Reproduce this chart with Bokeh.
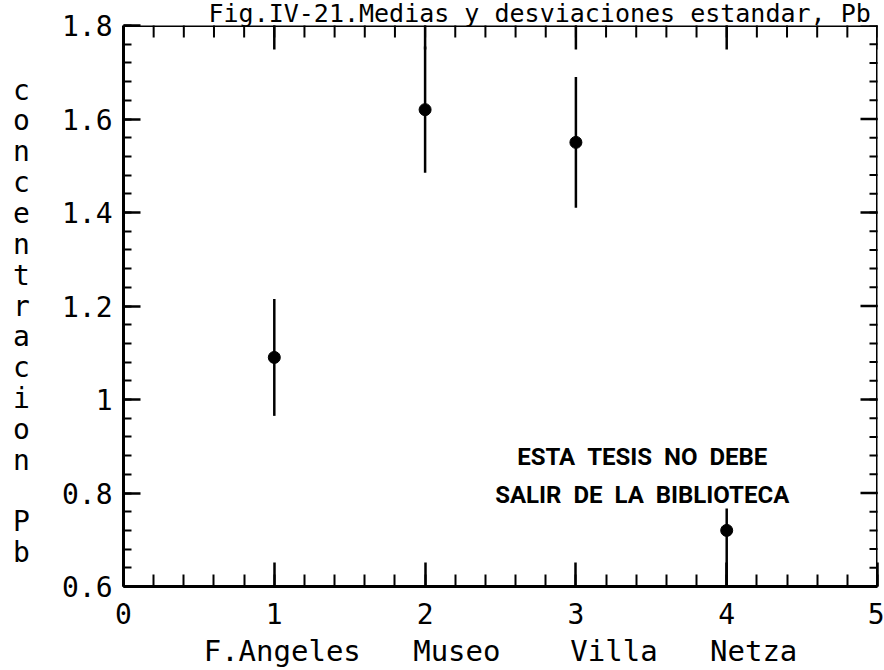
import math
from bokeh.plotting import figure
from bokeh.models import Range1d, FixedTicker, LinearAxis, Label, ColumnDataSource
from bokeh.embed import file_html
from bokeh.resources import INLINE

# Mean Pb concentration and standard deviation per sampling site
sitios = ["F.Angeles", "Museo", "Villa", "Netza"]
posicion = [1, 2, 3, 4]
media_pb = [1.09, 1.62, 1.55, 0.72]
desv_pb = [0.125, 0.135, 0.14, 0.12]

# Axis ticks and their printed labels
x_ticks = [0, 1, 2, 3, 4, 5]
x_tick_labels = ["0", "1", "2", "3", "4", "5"]
y_ticks = [0.6, 0.8, 1.0, 1.2, 1.4, 1.6, 1.8]
y_tick_labels = ["0.6", "0.8", "1", "1.2", "1.4", "1.6", "1.8"]
x_minor = [round(i * 0.2, 2) for i in range(26)]
y_minor = [round(0.6 + i * 0.04, 2) for i in range(31)]

titulo = "Fig.IV-21.Medias y desviaciones estandar, Pb"
eje_y = "concentracion Pb"
sello = ["ESTA  TESIS  NO  DEBE", "SALIR  DE  LA  BIBLIOTECA"]

FONT = "DejaVu Sans Mono"
NBSP = "\u00a0"

p = figure(width=884, height=670,
           x_range=Range1d(0, 5), y_range=Range1d(0.6, 1.8),
           output_backend="svg", toolbar_location=None,
           x_axis_location=None, y_axis_location=None,
           min_border_left=123, min_border_right=7,
           min_border_top=25, min_border_bottom=83)
p.outline_line_color = None
p.background_fill_color = "white"
p.border_fill_color = "white"
for g in p.grid:
    g.visible = False

# title sits right on top of the frame, partly above the page edge
p.title.text = titulo
p.title.text_font = FONT
p.title.text_font_size = "25px"
p.title.text_font_style = "normal"
p.title.text_color = "black"
p.title.align = "left"
p.title.vertical_align = "top"
p.title.offset = 85
p.title.standoff = -8


def make_axis(ticks, minor, labels, tick_in, minor_in):
    ax = LinearAxis(ticker=FixedTicker(ticks=ticks, minor_ticks=minor),
                    major_label_overrides=dict(zip(ticks, labels)))
    ax.axis_line_color = "black"
    ax.axis_line_width = 3
    ax.major_tick_in = tick_in
    ax.major_tick_out = 0
    ax.minor_tick_in = minor_in
    ax.minor_tick_out = 0
    ax.major_tick_line_width = 2.5
    ax.minor_tick_line_width = 2
    ax.major_tick_line_color = "black"
    ax.minor_tick_line_color = "black"
    ax.major_label_text_font = FONT
    ax.major_label_text_font_size = "28px"
    ax.major_label_text_color = "black"
    return ax


x_bottom = make_axis(x_ticks, x_minor, x_tick_labels, 24, 12)
x_bottom.major_label_standoff = 16
gap3 = NBSP * 3
gap4 = NBSP * 4
x_bottom.axis_label = sitios[0] + gap3 + sitios[1] + gap4 + sitios[2] + gap3 + sitios[3]
x_bottom.axis_label_text_font = FONT
x_bottom.axis_label_text_font_size = "29px"
x_bottom.axis_label_text_font_style = "normal"
x_bottom.axis_label_text_color = "black"
x_bottom.axis_label_standoff = 7

y_left = make_axis(y_ticks, y_minor, y_tick_labels, 17, 8)
y_left.major_label_standoff = 11
# stacked upright letters for the concentration label
y_left.axis_label = "\n".join(NBSP + eje_y.replace(" ", NBSP))
y_left.axis_label_orientation = "horizontal"
y_left.axis_label_text_font = FONT
y_left.axis_label_text_font_size = "28px"
y_left.axis_label_text_font_style = "normal"
y_left.axis_label_text_color = "black"
y_left.axis_label_text_line_height = 0.935
y_left.axis_label_standoff = 29

p.add_layout(x_bottom, "below")
p.add_layout(y_left, "left")

# closed frame: tick marks along the top and right edges, pointing inward
p.line(x=[0, 5], y=[1.8, 1.8], line_color="black", line_width=3)
p.line(x=[5, 5], y=[0.6, 1.8], line_color="black", line_width=3)
p.scatter(x=x_minor, y=[1.8] * len(x_minor), marker="dash", angle=math.pi / 2,
          size=24, line_color="black", line_width=2)
p.scatter(x=x_ticks, y=[1.8] * len(x_ticks), marker="dash", angle=math.pi / 2,
          size=48, line_color="black", line_width=2.5)
p.scatter(x=[5] * len(y_minor), y=y_minor, marker="dash",
          size=16, line_color="black", line_width=2)
p.scatter(x=[5] * len(y_ticks), y=y_ticks, marker="dash",
          size=34, line_color="black", line_width=2.5)

src = ColumnDataSource(dict(
    x=posicion,
    media=media_pb,
    inf=[m - d for m, d in zip(media_pb, desv_pb)],
    sup=[m + d for m, d in zip(media_pb, desv_pb)],
))
p.segment(x0="x", y0="inf", x1="x", y1="sup", source=src,
          line_color="black", line_width=2.5)
p.scatter("x", "media", source=src, size=12, color="black")

p.add_layout(Label(x=3.44, y=0.837,
                   text="\n".join(s.replace(" ", NBSP) for s in sello),
                   text_font="Roboto", text_font_style="bold", text_font_size="24px",
                   text_color="black", text_align="center",
                   text_baseline="middle", text_line_height=1.35,
                   background_fill_color="white"))

open("out.html", "w").write(file_html(p, INLINE))
